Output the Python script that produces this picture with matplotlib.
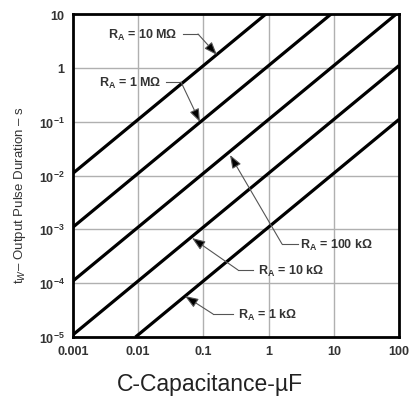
import matplotlib
matplotlib.use("Agg")
import matplotlib.pyplot as plt

plt.rcParams['font.family'] = ['Liberation Sans', 'DejaVu Sans']
plt.rcParams['mathtext.fontset'] = 'custom'
plt.rcParams['mathtext.rm'] = 'Liberation Sans'
plt.rcParams['mathtext.bf'] = 'Liberation Sans:bold'

# end points of each line (capacitance in uF, pulse duration in s)
c_1k = [0.0091, 100]
t_1k = [1e-5, 0.11]
c_10k = [0.001, 100]
t_10k = [1.1e-5, 1.1]
c_100k = [0.001, 91]
t_100k = [1.1e-4, 10]
c_1M = [0.001, 9.1]
t_1M = [1.1e-3, 10]
c_10M = [0.001, 0.91]
t_10M = [0.011, 10]

x_ticks = [0.001, 0.01, 0.1, 1, 10, 100]
x_tick_labels = ['0.001', '0.01', '0.1', '1', '10', '100']
y_ticks = [1e-5, 1e-4, 1e-3, 1e-2, 1e-1, 1, 10]
y_tick_labels = [r'$\mathbf{10^{-5}}$', r'$\mathbf{10^{-4}}$', r'$\mathbf{10^{-3}}$',
                 r'$\mathbf{10^{-2}}$', r'$\mathbf{10^{-1}}$', '1', '10']

fig = plt.figure(figsize=(4.12, 4.06), dpi=100)
ax = fig.add_axes([73 / 412, 1 - 338 / 406, 326 / 412, 323 / 406])

for c, t in [(c_1k, t_1k), (c_10k, t_10k), (c_100k, t_100k), (c_1M, t_1M), (c_10M, t_10M)]:
    ax.plot(c, t, color='black', lw=2.3, solid_capstyle='butt', zorder=3)

ax.set_xscale('log')
ax.set_yscale('log')
ax.set_xlim(0.001, 100)
ax.set_ylim(1e-5, 10)
ax.set_xticks(x_ticks)
ax.set_xticklabels(x_tick_labels, fontsize=9, fontweight='bold', color='#333333')
ax.set_yticks(y_ticks)
ax.set_yticklabels(y_tick_labels, fontsize=9, fontweight='bold', color='#333333')
ax.minorticks_off()
ax.tick_params(length=0, pad=6)
ax.grid(True, color='#b0b0b0', lw=1)
for s in ax.spines.values():
    s.set_linewidth(2)
    s.set_color('black')
    s.set_zorder(4)


# pixel position -> data position
def px(x, y):
    return 10 ** ((x - 73) / 65.2 - 3), 10 ** (1 - (y - 15) / 53.83)


# (label, text anchor px, text side, line start px, bend px, tip px)
notes = [
    (r'R$_\mathbf{A}$ = 10 MΩ', (177, 35), 'right', (183, 35), (198, 35), (217, 56)),
    (r'R$_\mathbf{A}$ = 1 MΩ', (161, 83), 'right', (166, 83), (181, 83), (200, 123)),
    (r'R$_\mathbf{A}$ = 100 kΩ', (300, 245), 'left', (298, 245), (282, 245), (230, 156)),
    (r'R$_\mathbf{A}$ = 10 kΩ', (258, 271), 'left', (253, 271), (238, 271), (192, 239)),
    (r'R$_\mathbf{A}$ = 1 kΩ', (238, 315), 'left', (233, 315), (213, 315), (185, 297)),
]
for lab, tpos, ha, p0, p1, tip in notes:
    ax.text(*px(*tpos), lab, ha=ha, va='center', fontsize=9, fontweight='bold',
            color='#333333', zorder=5)
    a, b = px(*p0)
    c, d = px(*p1)
    ax.plot([a, c], [b, d], color='#555555', lw=0.8, zorder=5)
    ax.annotate('', xy=px(*tip), xytext=(c, d),
                arrowprops=dict(arrowstyle='-|>,head_length=0.8,head_width=0.3',
                                color='#555555', lw=0.8, shrinkA=0, shrinkB=0,
                                fc='black', ec='#555555'), zorder=5)

fig.text(20 / 412, 1 - 195 / 406, 't$_W$– Output Pulse Duration – s', rotation=90,
         ha='center', va='center', fontsize=9.5, color='#333333')
fig.text(210 / 412, 1 - 385 / 406, 'C-Capacitance-µF', ha='center', va='center',
         fontsize=16.5, color='#222222')

fig.savefig('out.png', dpi=100)
